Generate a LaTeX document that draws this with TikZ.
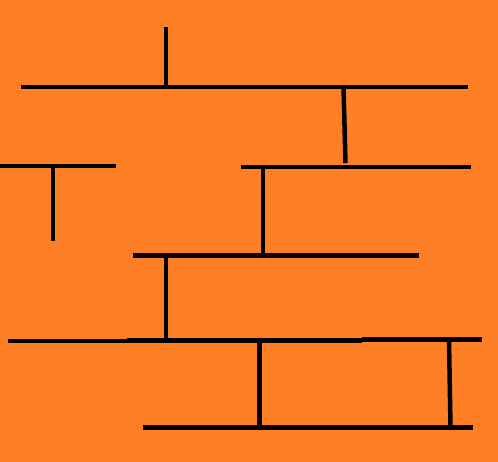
\documentclass[tikz,border=0pt]{standalone}
\definecolor{bgorange}{RGB}{255,127,39}
\begin{document}
\begin{tikzpicture}[x=1pt,y=-1pt,wall/.style={line width=4.5pt,black}]
\fill[bgorange] (0,0) rectangle (498,462);
\useasboundingbox (0,0) rectangle (498,462);
% top
\draw[wall] (166,27) -- (166,87);
\draw[wall] (21,87) -- (468,87);
\draw[wall] (343.5,87) -- (345.5,163);
% second row
\draw[wall] (241,167) -- (471,167);
\draw[wall] (0,166) -- (116,166);
\draw[wall] (53,166) -- (53,241);
\draw[wall] (263,167) -- (263,257);
% third row
\draw[wall] (133,255.5) -- (419,255.5);
\draw[wall] (166,255.5) -- (166,342);
% fourth row
\draw[wall] (8,341) -- (127,341);
\draw[wall] (127,340.5) -- (362,340.5);
\draw[wall] (362,339.5) -- (482,339.5);
\draw[wall] (259.5,340) -- (259.5,427);
\draw[wall] (449,340) -- (450.5,427);
% bottom
\draw[wall] (143,427.5) -- (473,427.5);
\end{tikzpicture}
\end{document}
